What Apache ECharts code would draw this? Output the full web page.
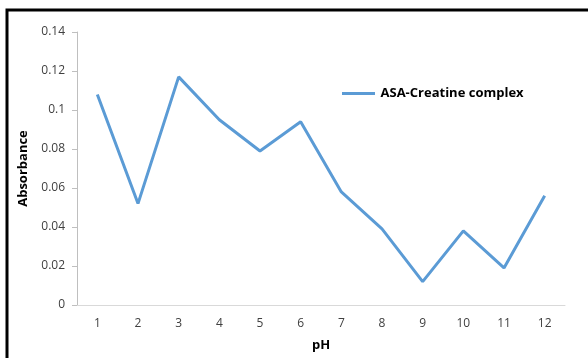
<!DOCTYPE html>
<html>
<head>
<meta charset="utf-8">
<style>
  html, body { margin: 0; padding: 0; background: #fff; }
  #chart { width: 588px; height: 358px; }
</style>
<script src="https://cdn.jsdelivr.net/npm/echarts@6/dist/echarts.min.js"></script>
</head>
<body>
<div id="chart"></div>
<script>
// pH values on the x axis
const phLevels = ['1', '2', '3', '4', '5', '6', '7', '8', '9', '10', '11', '12'];
// Measured absorbance of the complex at each pH
const absorbance = [0.108, 0.052, 0.117, 0.095, 0.079, 0.094, 0.058, 0.039, 0.012, 0.038, 0.019, 0.056];
const seriesName = 'ASA-Creatine complex';

const font = '"Open Sans", "Liberation Sans", sans-serif';
const chart = echarts.init(document.getElementById('chart'));

chart.setOption({
  animation: false,
  backgroundColor: '#fff',
  textStyle: { fontFamily: font },
  graphic: [
    {
      type: 'polyline',
      shape: { points: [[7, 400], [7, 10], [640, 10]] },
      style: { stroke: '#000', lineWidth: 3, fill: null },
      silent: true
    }
  ],
  grid: { left: 77, right: 23, top: 32, bottom: 53, containLabel: false },
  legend: {
    data: [seriesName],
    left: 337,
    top: 82,
    icon: 'path://M0,0 L33,0 L33,3 L0,3 Z',
    itemWidth: 34,
    itemHeight: 3,
    itemGap: 0,
    textStyle: { fontFamily: font, fontWeight: 'bold', fontSize: 13, color: '#000' }
  },
  xAxis: {
    type: 'category',
    data: phLevels,
    boundaryGap: true,
    name: 'pH',
    nameLocation: 'middle',
    nameGap: 34,
    nameTextStyle: { fontFamily: font, fontWeight: 'bold', fontSize: 13, color: '#000' },
    axisLine: { lineStyle: { color: '#d9d9d9', width: 1 } },
    axisTick: { show: false },
    axisLabel: { color: '#404040', fontSize: 12, margin: 13, fontFamily: font }
  },
  yAxis: {
    type: 'value',
    min: 0,
    max: 0.14,
    interval: 0.02,
    name: 'Absorbance',
    nameLocation: 'middle',
    nameRotate: 90,
    nameGap: 47,
    nameTextStyle: { fontFamily: font, fontWeight: 'bold', fontSize: 13, color: '#000' },
    axisLine: { show: true, lineStyle: { color: '#bfbfbf', width: 1 } },
    axisTick: { show: true, length: 5, lineStyle: { color: '#bfbfbf' } },
    splitLine: { show: false },
    axisLabel: {
      color: '#404040', fontSize: 12, margin: 12, fontFamily: font,
      formatter: v => String(parseFloat(v.toFixed(2)))
    }
  },
  series: [
    {
      name: seriesName,
      type: 'line',
      data: absorbance,
      symbol: 'none',
      lineStyle: { color: '#5b9bd5', width: 3 },
      itemStyle: { color: '#5b9bd5' }
    }
  ]
});
</script>
</body>
</html>
